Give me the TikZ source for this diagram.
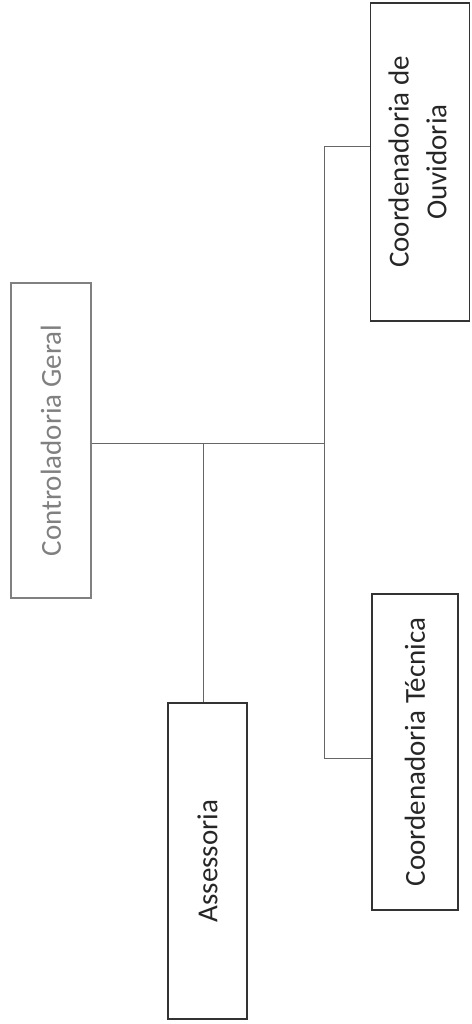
\documentclass[tikz,border=0pt]{standalone}
\usepackage{fontspec}
\setmainfont{Carlito}
\usepackage{graphicx}
\usetikzlibrary{positioning,calc}

\begin{document}
\begin{tikzpicture}[x=0.02cm, y=-0.02cm]
\tikzstyle{every node}=[font=\fontsize{16.5}{21.5}\selectfont]
\tikzstyle{unit}=[draw=black!80, line width=1pt, rectangle, inner sep=0pt, text=black!85]
\tikzstyle{top}=[unit, draw=black!50, text=black!50, line width=0.8pt]
\tikzstyle{conn}=[draw=black!60, line width=0.5pt]
\useasboundingbox (0,0) rectangle (471,1024);
   \node[top, minimum width=80*0.02cm, minimum height=315*0.02cm](cg) at (51,440.5){\rotatebox{90}{Controladoria Geral}};
   \node[unit, minimum width=99*0.02cm, minimum height=318*0.02cm](ouv) at (420,162){\rotatebox{90}{\begin{tabular}{@{}c@{}}Coordenadoria de\\Ouvidoria\end{tabular}}};
   \node[unit, minimum width=79*0.02cm, minimum height=316*0.02cm](ass) at (207.5,861){\rotatebox{90}{Assessoria}};
   \node[unit, minimum width=86*0.02cm, minimum height=316*0.02cm](tec) at (415,752){\rotatebox{90}{Coordenadoria Técnica}};
   \coordinate (j1) at (203,443);
   \coordinate (j2) at (324,443);
   \draw[conn] (cg.east |- j1) -- (j2);
   \draw[conn] (j1) -- (j1 |- ass.north);
   \draw[conn] ($(ouv.north west)!0.45!(ouv.south west)$) -| (j2);
   \draw[conn] (j2) |- ($(tec.north west)!0.52!(tec.south west)$);
\end{tikzpicture}
\end{document}
